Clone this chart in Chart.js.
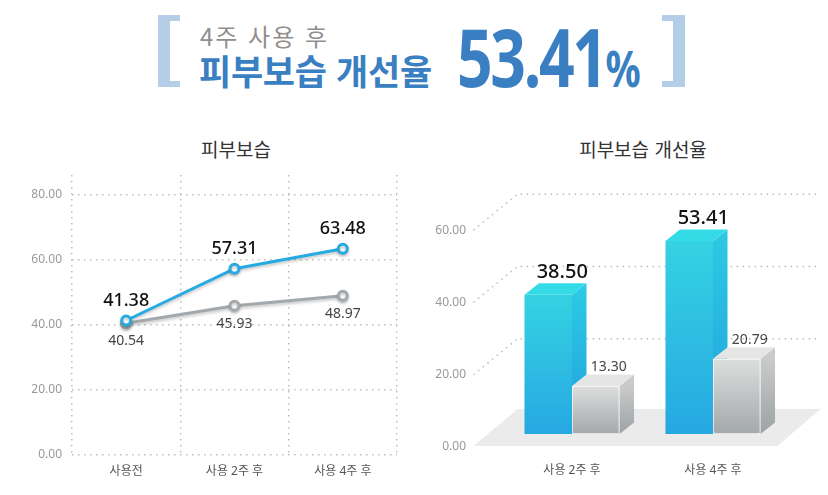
<!DOCTYPE html>
<html lang="ko">
<head>
<meta charset="utf-8">
<title>피부보습 개선율</title>
<script src="https://cdn.jsdelivr.net/npm/chart.js@4.4.1/dist/chart.umd.min.js"></script>
<style>
  body { margin: 0; background: #fff; }
  #wrap { position: relative; width: 828px; height: 495px; overflow: hidden; }
  #wrap div, #wrap canvas { position: absolute; }
  .brk { top: 15px; height: 60px; border: 0 solid #b5cee7; border-top-width: 6px; border-bottom-width: 6px; }
  .brk.l { left: 158px; width: 10px; border-left-width: 12px; }
  .brk.r { left: 662px; width: 11px; border-right-width: 12px; }
  .sub { left: 200px; top: 24px; font: 24px/24px "Noto Sans CJK KR", sans-serif; color: #8f8f8f; letter-spacing: 2px; white-space: nowrap; }
  .main { left: 199px; top: 52px; font: 700 35px/35px "Noto Sans CJK KR", sans-serif; color: #3a7fc2; letter-spacing: -0.3px; white-space: nowrap; }
  .num { left: 457px; top: 16px; font: 700 80px/80px "Noto Sans", sans-serif; color: #3a7fc2; letter-spacing: -3px; white-space: nowrap; transform: scaleX(0.78); transform-origin: left top; }
  .num span { font-size: 50px; letter-spacing: 0; }
  .ttl { top: 139px; font: 19px/19px "Noto Sans CJK KR", sans-serif; color: #333; transform: translateX(-50%); white-space: nowrap; }
</style>
</head>
<body>
<div id="wrap">
  <div class="brk l"></div>
  <div class="sub">4주 사용 후</div>
  <div class="main">피부보습 개선율</div>
  <div class="num">53.41<span>%</span></div>
  <div class="brk r"></div>

  <div class="ttl" style="left:236px">피부보습</div>
  <div class="ttl" style="left:643px">피부보습 개선율</div>

  <canvas id="lineChart" width="414" height="495" style="left:0;top:0"></canvas>
  <canvas id="barChart" width="414" height="495" style="left:414px;top:0"></canvas>
</div>

<script>
// data
const lineLabels = ['사용전', '사용 2주 후', '사용 4주 후'];
const moistTest = [41.38, 57.31, 63.48];
const moistCtrl = [40.54, 45.93, 48.97];
const lineYTicks = [0, 20, 40, 60, 80];

const barLabels = ['사용 2주 후', '사용 4주 후'];
const improveTest = [38.50, 53.41];
const improveCtrl = [13.30, 20.79];
const barYTicks = [0, 20, 40, 60];

Chart.defaults.font.family = '"Noto Sans", "Noto Sans CJK KR", sans-serif';
Chart.defaults.animation = false;

const gridColor = '#bdbdbd';
const dots = [1.5, 4.5];

// value labels + soft shadow on the lines
const lineDeco = {
  id: 'lineDeco',
  beforeDatasetDraw(chart) {
    const ctx = chart.ctx;
    ctx.save();
    ctx.shadowColor = 'rgba(0,0,0,0.22)';
    ctx.shadowBlur = 3;
    ctx.shadowOffsetY = 2;
  },
  afterDatasetDraw(chart) {
    chart.ctx.restore();
  },
  afterDatasetsDraw(chart) {
    const ctx = chart.ctx;
    ctx.save();
    ctx.textAlign = 'center';
    ctx.textBaseline = 'middle';
    chart.getDatasetMeta(0).data.forEach((pt, i) => {
      ctx.font = '500 18px "Noto Sans"';
      ctx.fillStyle = '#111';
      ctx.fillText(moistTest[i].toFixed(2), pt.x, pt.y - 20);
    });
    chart.getDatasetMeta(1).data.forEach((pt, i) => {
      ctx.font = '14px "Noto Sans"';
      ctx.fillStyle = '#444';
      ctx.fillText(moistCtrl[i].toFixed(2), pt.x, pt.y + 18);
    });
    ctx.restore();
  }
};

new Chart(document.getElementById('lineChart'), {
  type: 'line',
  data: {
    labels: lineLabels,
    datasets: [{
      data: moistTest,
      borderColor: '#27aae1',
      borderWidth: 3,
      pointRadius: 4.5,
      pointBorderWidth: 3,
      pointBackgroundColor: '#fff',
      pointBorderColor: '#27aae1'
    }, {
      data: moistCtrl,
      borderColor: '#a2a8ab',
      borderWidth: 3,
      pointRadius: 4.5,
      pointBorderWidth: 3,
      pointBackgroundColor: '#fff',
      pointBorderColor: '#a2a8ab'
    }]
  },
  options: {
    responsive: false,
    layout: { padding: { top: 175, right: 17, bottom: 0, left: 0 } },
    plugins: { legend: { display: false }, tooltip: { enabled: false } },
    scales: {
      x: {
        offset: true,
        grid: { offset: true, color: gridColor, lineWidth: 1.5, drawTicks: false },
        border: { display: false, dash: dots },
        ticks: { color: '#555', font: { size: 12 }, padding: 9 },
        afterFit(s) { s.height = 40; }
      },
      y: {
        min: 0,
        max: 86.15,
        afterBuildTicks(s) { s.ticks = lineYTicks.map(v => ({ value: v })); },
        grid: { color: gridColor, lineWidth: 1.5, drawTicks: false },
        border: { display: false, dash: dots },
        ticks: { color: '#999', font: { size: 12 }, padding: 10, callback: v => v.toFixed(2) },
        afterFit(s) { s.width = 72; }
      }
    }
  },
  plugins: [lineDeco]
});

// 3D bars, floor and slanted grid
const DX = 14.5, DY = -11.5;
const skins = [
  { front: ['#35d2e2', '#26a8e2'], top: '#34dbe7', side: ['#2cc8e4', '#229fdc'], edge: null },
  { front: ['#dddede', '#a3a8aa'], top: '#e5e5e5', side: ['#c9cacb', '#9da2a4'], edge: 'rgba(255,255,255,0.7)' }
];

function box(ctx, x0, x1, top, bottom, skin) {
  let g = ctx.createLinearGradient(0, top, 0, bottom);
  g.addColorStop(0, skin.side[0]); g.addColorStop(1, skin.side[1]);
  ctx.fillStyle = g;
  ctx.beginPath();
  ctx.moveTo(x1, top); ctx.lineTo(x1 + DX, top + DY);
  ctx.lineTo(x1 + DX, bottom + DY); ctx.lineTo(x1, bottom);
  ctx.closePath(); ctx.fill();

  ctx.fillStyle = skin.top;
  ctx.beginPath();
  ctx.moveTo(x0, top); ctx.lineTo(x0 + DX, top + DY);
  ctx.lineTo(x1 + DX, top + DY); ctx.lineTo(x1, top);
  ctx.closePath(); ctx.fill();

  g = ctx.createLinearGradient(0, top, 0, bottom);
  g.addColorStop(0, skin.front[0]); g.addColorStop(1, skin.front[1]);
  ctx.fillStyle = g;
  ctx.fillRect(x0, top, x1 - x0, bottom - top);

  if (skin.edge) {
    ctx.strokeStyle = skin.edge;
    ctx.lineWidth = 1;
    ctx.strokeRect(x0 + 0.5, top + 0.5, x1 - x0 - 1, bottom - top - 1);
  }
}

const bar3d = {
  id: 'bar3d',
  beforeDatasetsDraw(chart) {
    const { ctx, chartArea: a } = chart;
    const y = chart.scales.y;
    const z = y.getPixelForValue(0);
    ctx.save();
    ctx.fillStyle = '#ebebeb';
    ctx.beginPath();
    ctx.moveTo(a.left - 28, z + 12);
    ctx.lineTo(a.left + 16, z - 25);
    ctx.lineTo(a.right + 37, z - 25);
    ctx.lineTo(a.right - 6, z + 12);
    ctx.closePath();
    ctx.fill();

    ctx.strokeStyle = gridColor;
    ctx.lineWidth = 1.5;
    ctx.setLineDash(dots);
    y.ticks.forEach(t => {
      if (t.value === 0) return;
      const py = y.getPixelForValue(t.value) + 13;
      ctx.beginPath();
      ctx.moveTo(a.left - 28, py);
      ctx.lineTo(a.left + 16, py - 36);
      ctx.lineTo(a.right + 35, py - 36);
      ctx.stroke();
    });
    ctx.restore();
  },
  afterDatasetsDraw(chart) {
    const ctx = chart.ctx;
    const vals = [improveTest, improveCtrl];
    ctx.save();
    barLabels.forEach((_, i) => {
      [0, 1].forEach(d => {
        const el = chart.getDatasetMeta(d).data[i];
        const p = el.getProps(['x', 'y', 'base', 'width'], true);
        box(ctx, p.x - p.width / 2, p.x + p.width / 2, p.y, p.base, skins[d]);
      });
    });
    ctx.textAlign = 'center';
    ctx.textBaseline = 'alphabetic';
    barLabels.forEach((_, i) => {
      const a = chart.getDatasetMeta(0).data[i];
      ctx.font = '500 20px "Noto Sans"';
      ctx.fillStyle = '#111';
      ctx.fillText(vals[0][i].toFixed(2), a.x + 14, a.y + DY - 5);
      const b = chart.getDatasetMeta(1).data[i];
      ctx.font = '14px "Noto Sans"';
      ctx.fillStyle = '#444';
      ctx.fillText(vals[1][i].toFixed(2), b.x + 13, b.y + DY - 3);
    });
    ctx.restore();
  }
};

new Chart(document.getElementById('barChart'), {
  type: 'bar',
  data: {
    labels: barLabels,
    datasets: [
      { data: improveTest, backgroundColor: 'rgba(0,0,0,0)' },
      { data: improveCtrl, backgroundColor: 'rgba(0,0,0,0)' }
    ]
  },
  options: {
    responsive: false,
    layout: { padding: { top: 181, right: 44.5, bottom: 0, left: 0 } },
    categoryPercentage: 0.674,
    barPercentage: 1,
    plugins: { legend: { display: false }, tooltip: { enabled: false } },
    scales: {
      x: {
        grid: { display: false, drawTicks: false },
        border: { display: false },
        ticks: { color: '#555', font: { size: 12 }, padding: 29 },
        afterFit(s) { s.height = 61; }
      },
      y: {
        min: 0,
        max: 70,
        afterBuildTicks(s) { s.ticks = barYTicks.map(v => ({ value: v })); },
        grid: { display: false, drawTicks: false },
        border: { display: false },
        ticks: { color: '#999', font: { size: 12 }, padding: 35.5, labelOffset: 13, callback: v => v.toFixed(2) },
        afterFit(s) { s.width = 87.5; }
      }
    }
  },
  plugins: [bar3d]
});
</script>
</body>
</html>
